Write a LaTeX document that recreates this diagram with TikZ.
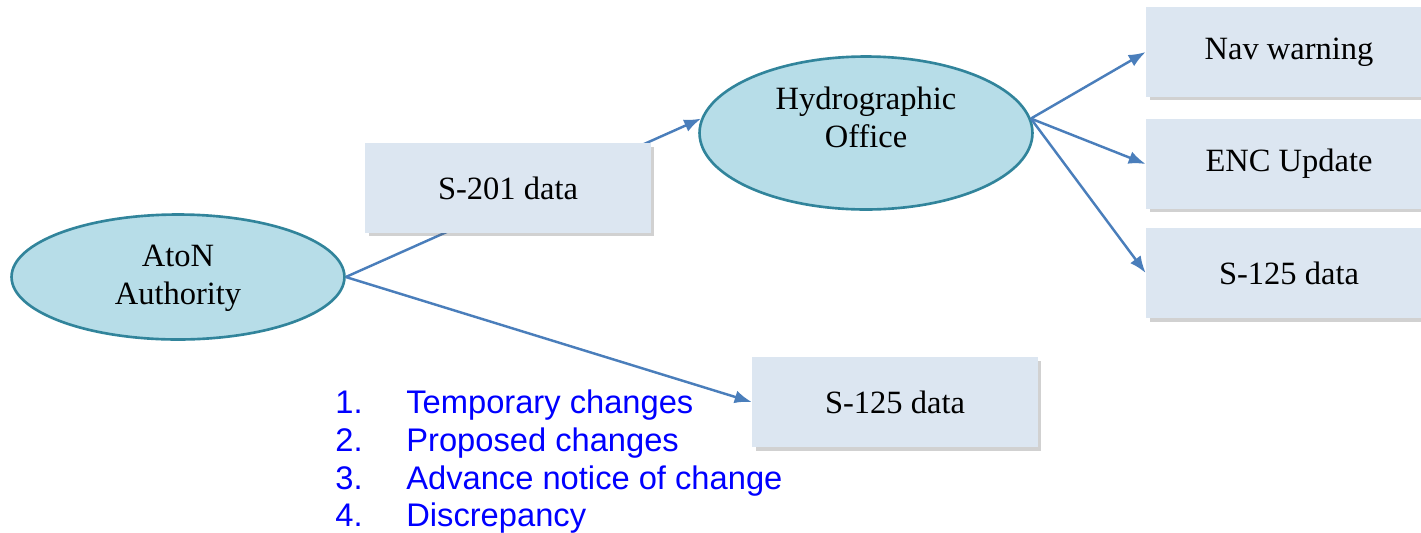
\documentclass[tikz,border=0pt]{standalone}
\usepackage{fontspec}
\setmainfont{Liberation Serif}
\newfontfamily\listfont{Liberation Sans}
\usetikzlibrary{shapes.geometric,arrows.meta,shadows,backgrounds}
\definecolor{boxfill}{HTML}{DCE6F1}
\definecolor{ellfill}{HTML}{B7DDE8}
\definecolor{elldraw}{HTML}{31849B}
\definecolor{arrowcol}{HTML}{4A7EBB}
\definecolor{listblue}{HTML}{0000FF}
\tikzset{
  databox/.style={rectangle, fill=boxfill, minimum width=5.72cm, minimum height=1.8cm,
    font=\fontsize{18.5}{21}\selectfont, inner sep=0pt,
    drop shadow={shadow xshift=0.07cm, shadow yshift=-0.07cm, opacity=0.3, fill=black!60}},
  actor/.style={ellipse, fill=ellfill, draw=elldraw, line width=1.5pt, inner sep=0pt,
    minimum width=6.66cm},
  actortext/.style={align=center, inner sep=0pt, font=\fontsize{18.5}{21.5}\selectfont},
  flow/.style={draw=arrowcol, line width=1.4pt, -{Latex[length=0.34cm,width=0.26cm]}},
  listitem/.style={anchor=base west, inner sep=0pt, text=listblue,
    font=\listfont\fontsize{18.6}{21}\selectfont}
}
\begin{document}
\begin{tikzpicture}[x=0.02cm,y=-0.02cm]
\useasboundingbox (0,0) rectangle (1421,532);
\node[actor, minimum height=2.5cm] (aton) at (178,277) {};
\node[actortext] (atontext) at (178,278) {AtoN\\Authority};
\node[actor, minimum height=3.06cm] (hydro) at (866,133) {};
\node[actortext] (hydrotext) at (866,117) {Hydrographic\\Office};
\node[databox] (s201) at (508,188) {S-201 data};
\node[databox] (nav) at (1289,52) {Nav warning};
\node[databox] (enc) at (1289,164) {ENC Update};
\node[databox] (s125r) at (1289,273) {S-125 data};
\node[databox] (s125b) at (895,402) {S-125 data};
\begin{pgfonlayer}{background}
\draw[flow] (aton.east) -- (hydro.175);
\end{pgfonlayer}
\draw[flow] (aton.east) -- (s125b.west);
\draw[flow] (hydro.5) -- (nav.west);
\draw[flow] (hydro.5) -- (enc.west);
\draw[flow] (hydro.5) -- (s125r.west);
\node[listitem] (l1) at (335,413) {\makebox[1.42cm][l]{1.}Temporary changes};
\node[listitem] (l2) at (335,451) {\makebox[1.42cm][l]{2.}Proposed changes};
\node[listitem] (l3) at (335,489) {\makebox[1.42cm][l]{3.}Advance notice of change};
\node[listitem] (l4) at (335,526) {\makebox[1.42cm][l]{4.}Discrepancy};
\end{tikzpicture}
\end{document}
